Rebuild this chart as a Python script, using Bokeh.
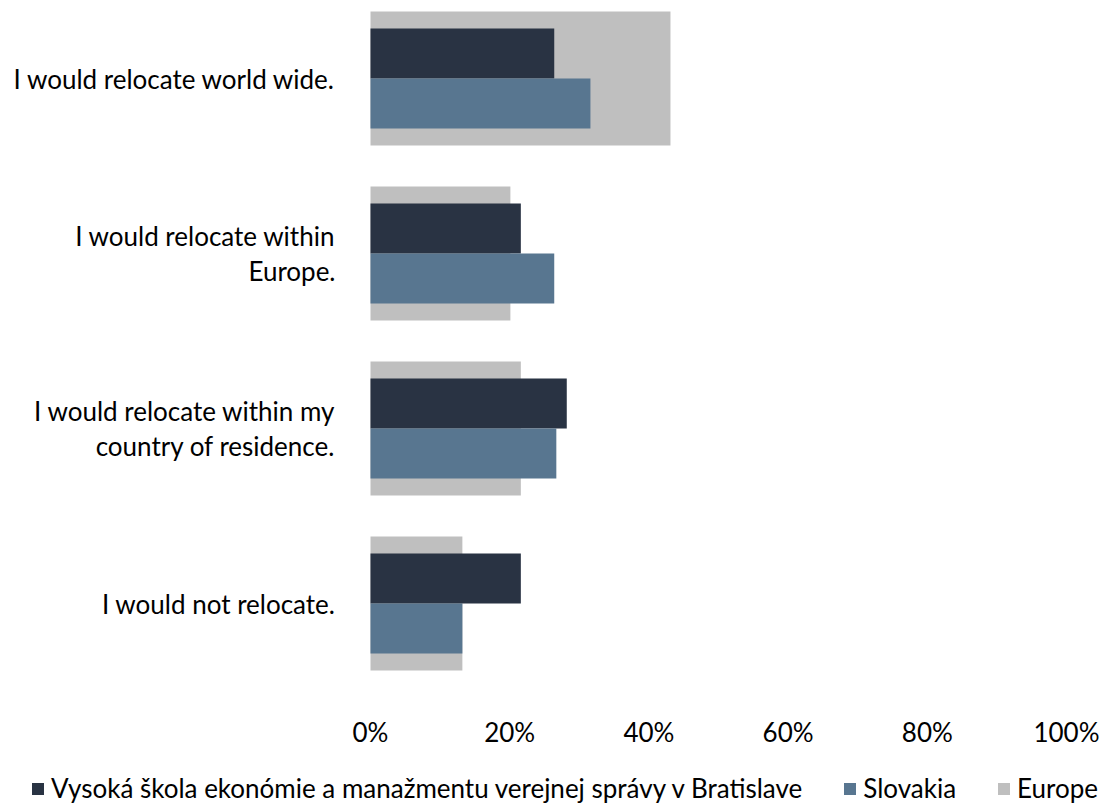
from bokeh.plotting import figure
from bokeh.models import Range1d, Legend, LegendItem, FixedTicker, ColumnDataSource
from bokeh.embed import file_html
from bokeh.resources import INLINE

categories = ["I would relocate world wide.",
              "I would relocate within\nEurope.",
              "I would relocate within my\ncountry of residence.",
              "I would not relocate."]
school = [0.264, 0.216, 0.282, 0.216]
slovakia = [0.316, 0.264, 0.267, 0.132]
europe = [0.431, 0.201, 0.216, 0.132]
series_names = ["Vysoká škola ekonómie a manažmentu verejnej správy v Bratislave", "Slovakia", "Europe"]
x_ticks = [0, 0.2, 0.4, 0.6, 0.8, 1.0]
x_tick_labels = ["0%", "20%", "40%", "60%", "80%", "100%"]

n = len(categories)
ypos = [n - 1 - i for i in range(n)]

FONT = "Lato"
FS = "26px"
C_SCHOOL = "#293343"
C_SVK = "#587690"
C_EU = "#BFBFBF"

W, H = 1108, 804
PX_X = 696.0   # pixels per 100%
PX_Y = 175.0   # pixels per category
X0 = 370       # pixel of 0%
Y_TOP = 3.446

p = figure(frame_width=W, frame_height=H, output_backend="svg", toolbar_location=None,
           x_range=Range1d(-X0 / PX_X, (W - X0) / PX_X),
           y_range=Range1d(Y_TOP - H / PX_Y, Y_TOP),
           min_border_left=0, min_border_right=0, min_border_top=0, min_border_bottom=0)

src = ColumnDataSource(dict(y=ypos, school=school, svk=slovakia, eu=europe,
                            y1=[v + 0.143 for v in ypos], y2=[v - 0.143 for v in ypos]))
r_eu = p.hbar(y="y", right="eu", left=0, height=0.766, source=src, color=C_EU, line_color=None)
r_sc = p.hbar(y="y1", right="school", left=0, height=0.286, source=src, color=C_SCHOOL, line_color=None)
r_sk = p.hbar(y="y2", right="svk", left=0, height=0.286, source=src, color=C_SVK, line_color=None)

p.outline_line_color = None
p.xgrid.visible = False
p.ygrid.visible = False

xa = p.xaxis[0]
xa.fixed_location = -0.485
xa.ticker = FixedTicker(ticks=x_ticks)
xa.major_label_overrides = {t: l for t, l in zip(x_ticks, x_tick_labels)}
xa.axis_line_color = None
xa.major_tick_line_color = None
xa.minor_tick_line_color = None
xa.major_tick_out = 0
xa.major_label_text_font = FONT
xa.major_label_text_font_size = FS
xa.major_label_text_color = "#000000"
xa.major_label_standoff = 28

ya = p.yaxis[0]
ya.fixed_location = 0
ya.ticker = FixedTicker(ticks=ypos)
ya.major_label_overrides = {y: c for y, c in zip(ypos, categories)}
ya.axis_line_color = None
ya.major_tick_line_color = None
ya.minor_tick_line_color = None
ya.major_tick_out = 0
ya.major_label_text_font = FONT
ya.major_label_text_font_size = FS
ya.major_label_text_color = "#000000"
ya.major_label_text_line_height = 1.1
ya.major_label_standoff = 35

legend = Legend(items=[LegendItem(label=series_names[0], renderers=[r_sc]),
                       LegendItem(label=series_names[1], renderers=[r_sk]),
                       LegendItem(label=series_names[2], renderers=[r_eu])],
                orientation="horizontal", location=(30, 0),
                label_text_font=FONT, label_text_font_size=FS, label_text_color="#000000",
                glyph_width=15, glyph_height=15, label_standoff=6, spacing=40,
                border_line_color=None, background_fill_alpha=0, margin=0, padding=4)
p.add_layout(legend, "center")

open("out.html", "w").write(file_html(p, INLINE))
